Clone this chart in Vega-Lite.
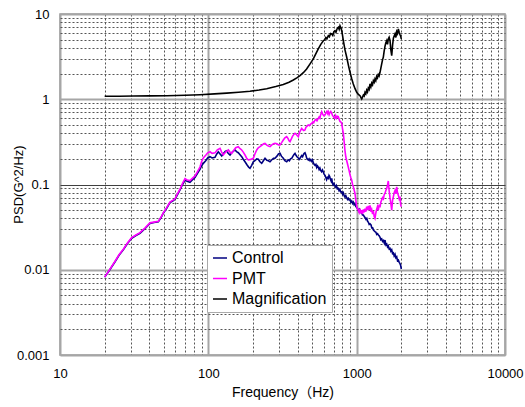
{
 "$schema": "https://vega.github.io/schema/vega-lite/v6.json",
 "width": 445, "height": 341,
 "autosize": "none",
 "padding": {"left": 60, "top": 14, "right": 20, "bottom": 52},
 "background": "white",
 "config": {"view": {"stroke": "#999999", "strokeWidth": 1.5}, "font": "Liberation Sans"},
 "data": {"values": [
{"s":"Control","f":20,"v":0.0082},{"s":"Control","f":21.5,"v":0.0098},{"s":"Control","f":23.5,"v":0.0124},{"s":"Control","f":25,"v":0.0148},{"s":"Control","f":26.7,"v":0.0171},{"s":"Control","f":28.5,"v":0.0203},{"s":"Control","f":30.4,"v":0.0234},{"s":"Control","f":32.5,"v":0.0252},{"s":"Control","f":34.6,"v":0.0268},{"s":"Control","f":37.5,"v":0.0305},{"s":"Control","f":40.4,"v":0.035},{"s":"Control","f":43,"v":0.0358},{"s":"Control","f":46,"v":0.0366},{"s":"Control","f":48,"v":0.041},{"s":"Control","f":49.7,"v":0.046},{"s":"Control","f":52.5,"v":0.053},{"s":"Control","f":55.1,"v":0.0612},{"s":"Control","f":57.5,"v":0.064},{"s":"Control","f":59.6,"v":0.0671},{"s":"Control","f":62,"v":0.076},{"s":"Control","f":64.4,"v":0.0862},{"s":"Control","f":67,"v":0.1},{"s":"Control","f":69.6,"v":0.112},{"s":"Control","f":72,"v":0.109},{"s":"Control","f":75.2,"v":0.106},{"s":"Control","f":78,"v":0.113},{"s":"Control","f":81.3,"v":0.121},{"s":"Control","f":84.5,"v":0.135},{"s":"Control","f":87.8,"v":0.15},{"s":"Control","f":90,"v":0.165},{"s":"Control","f":92.5,"v":0.177},{"s":"Control","f":96,"v":0.19},{"s":"Control","f":99,"v":0.205},{"s":"Control","f":102.6,"v":0.212},{"s":"Control","f":106,"v":0.205},{"s":"Control","f":110.9,"v":0.208},{"s":"Control","f":114,"v":0.228},{"s":"Control","f":116.8,"v":0.242},{"s":"Control","f":120,"v":0.228},{"s":"Control","f":123.1,"v":0.216},{"s":"Control","f":127,"v":0.232},{"s":"Control","f":130,"v":0.245},{"s":"Control","f":133,"v":0.249},{"s":"Control","f":136,"v":0.232},{"s":"Control","f":140,"v":0.222},{"s":"Control","f":145,"v":0.24},{"s":"Control","f":151.3,"v":0.254},{"s":"Control","f":155,"v":0.243},{"s":"Control","f":159.2,"v":0.236},{"s":"Control","f":163,"v":0.225},{"s":"Control","f":167.9,"v":0.212},{"s":"Control","f":172,"v":0.198},{"s":"Control","f":176.7,"v":0.185},{"s":"Control","f":183,"v":0.168},{"s":"Control","f":187,"v":0.16},{"s":"Control","f":190.9,"v":0.155},{"s":"Control","f":196,"v":0.168},{"s":"Control","f":201,"v":0.185},{"s":"Control","f":206,"v":0.19},{"s":"Control","f":212,"v":0.2},{"s":"Control","f":217.3,"v":0.198},{"s":"Control","f":223,"v":0.185},{"s":"Control","f":229,"v":0.177},{"s":"Control","f":235,"v":0.19},{"s":"Control","f":241.1,"v":0.203},{"s":"Control","f":248,"v":0.192},{"s":"Control","f":254,"v":0.19},{"s":"Control","f":260.5,"v":0.185},{"s":"Control","f":268,"v":0.195},{"s":"Control","f":275,"v":0.203},{"s":"Control","f":281.5,"v":0.203},{"s":"Control","f":290,"v":0.215},{"s":"Control","f":297,"v":0.228},{"s":"Control","f":304.2,"v":0.232},{"s":"Control","f":311,"v":0.215},{"s":"Control","f":320.2,"v":0.203},{"s":"Control","f":328,"v":0.19},{"s":"Control","f":337.6,"v":0.185},{"s":"Control","f":345,"v":0.195},{"s":"Control","f":352,"v":0.19},{"s":"Control","f":358,"v":0.2},{"s":"Control","f":364.8,"v":0.203},{"s":"Control","f":372,"v":0.215},{"s":"Control","f":378,"v":0.225},{"s":"Control","f":384,"v":0.232},{"s":"Control","f":390,"v":0.22},{"s":"Control","f":397,"v":0.21},{"s":"Control","f":404,"v":0.205},{"s":"Control","f":410,"v":0.197},{"s":"Control","f":415,"v":0.203},{"s":"Control","f":420,"v":0.21},{"s":"Control","f":426,"v":0.218},{"s":"Control","f":432,"v":0.212},{"s":"Control","f":438,"v":0.225},{"s":"Control","f":443,"v":0.232},{"s":"Control","f":448.5,"v":0.236},{"s":"Control","f":455,"v":0.22},{"s":"Control","f":460,"v":0.205},{"s":"Control","f":466,"v":0.198},{"s":"Control","f":472,"v":0.194},{"s":"Control","f":478,"v":0.2},{"s":"Control","f":485,"v":0.19},{"s":"Control","f":491,"v":0.196},{"s":"Control","f":498,"v":0.187},{"s":"Control","f":504,"v":0.194},{"s":"Control","f":510,"v":0.18},{"s":"Control","f":517,"v":0.172},{"s":"Control","f":524,"v":0.168},{"s":"Control","f":531,"v":0.172},{"s":"Control","f":538,"v":0.158},{"s":"Control","f":545,"v":0.165},{"s":"Control","f":551,"v":0.16},{"s":"Control","f":558,"v":0.15},{"s":"Control","f":565,"v":0.156},{"s":"Control","f":572,"v":0.146},{"s":"Control","f":580,"v":0.141},{"s":"Control","f":588,"v":0.148},{"s":"Control","f":596,"v":0.14},{"s":"Control","f":603,"v":0.132},{"s":"Control","f":612,"v":0.128},{"s":"Control","f":619,"v":0.122},{"s":"Control","f":627,"v":0.114},{"s":"Control","f":636,"v":0.121},{"s":"Control","f":644,"v":0.118},{"s":"Control","f":651,"v":0.128},{"s":"Control","f":658,"v":0.124},{"s":"Control","f":665,"v":0.115},{"s":"Control","f":672,"v":0.11},{"s":"Control","f":679,"v":0.118},{"s":"Control","f":686,"v":0.104},{"s":"Control","f":694,"v":0.099},{"s":"Control","f":703,"v":0.103},{"s":"Control","f":714,"v":0.096},{"s":"Control","f":722,"v":0.093},{"s":"Control","f":731,"v":0.097},{"s":"Control","f":741,"v":0.089},{"s":"Control","f":752,"v":0.09},{"s":"Control","f":760,"v":0.085},{"s":"Control","f":770,"v":0.088},{"s":"Control","f":780,"v":0.082},{"s":"Control","f":793,"v":0.082},{"s":"Control","f":803,"v":0.077},{"s":"Control","f":813,"v":0.08},{"s":"Control","f":823,"v":0.074},{"s":"Control","f":834,"v":0.071},{"s":"Control","f":845,"v":0.074},{"s":"Control","f":857,"v":0.07},{"s":"Control","f":867,"v":0.067},{"s":"Control","f":878,"v":0.069},{"s":"Control","f":889,"v":0.066},{"s":"Control","f":902,"v":0.0658},{"s":"Control","f":914,"v":0.062},{"s":"Control","f":926,"v":0.064},{"s":"Control","f":938,"v":0.06},{"s":"Control","f":949,"v":0.062},{"s":"Control","f":961,"v":0.058},{"s":"Control","f":974,"v":0.06},{"s":"Control","f":987,"v":0.055},{"s":"Control","f":1001,"v":0.054},{"s":"Control","f":1015,"v":0.052},{"s":"Control","f":1030,"v":0.049},{"s":"Control","f":1045,"v":0.051},{"s":"Control","f":1060,"v":0.047},{"s":"Control","f":1081,"v":0.047},{"s":"Control","f":1095,"v":0.044},{"s":"Control","f":1110,"v":0.0439},{"s":"Control","f":1125,"v":0.042},{"s":"Control","f":1138,"v":0.041},{"s":"Control","f":1155,"v":0.039},{"s":"Control","f":1170,"v":0.04},{"s":"Control","f":1185,"v":0.037},{"s":"Control","f":1200,"v":0.036},{"s":"Control","f":1215,"v":0.034},{"s":"Control","f":1230,"v":0.0345},{"s":"Control","f":1250,"v":0.0335},{"s":"Control","f":1265,"v":0.031},{"s":"Control","f":1282,"v":0.031},{"s":"Control","f":1300,"v":0.029},{"s":"Control","f":1315,"v":0.0285},{"s":"Control","f":1329,"v":0.028},{"s":"Control","f":1348,"v":0.0275},{"s":"Control","f":1365,"v":0.026},{"s":"Control","f":1383,"v":0.0265},{"s":"Control","f":1400,"v":0.0256},{"s":"Control","f":1418,"v":0.025},{"s":"Control","f":1437,"v":0.024},{"s":"Control","f":1455,"v":0.0225},{"s":"Control","f":1475,"v":0.023},{"s":"Control","f":1495,"v":0.0215},{"s":"Control","f":1515,"v":0.022},{"s":"Control","f":1535,"v":0.0205},{"s":"Control","f":1553,"v":0.0223},{"s":"Control","f":1575,"v":0.0195},{"s":"Control","f":1595,"v":0.02},{"s":"Control","f":1615,"v":0.0185},{"s":"Control","f":1635,"v":0.019},{"s":"Control","f":1656,"v":0.0175},{"s":"Control","f":1678,"v":0.0178},{"s":"Control","f":1700,"v":0.0165},{"s":"Control","f":1723,"v":0.0171},{"s":"Control","f":1745,"v":0.0155},{"s":"Control","f":1768,"v":0.0158},{"s":"Control","f":1790,"v":0.0145},{"s":"Control","f":1814,"v":0.0152},{"s":"Control","f":1838,"v":0.0138},{"s":"Control","f":1862,"v":0.0142},{"s":"Control","f":1885,"v":0.0128},{"s":"Control","f":1909,"v":0.013},{"s":"Control","f":1935,"v":0.0122},{"s":"Control","f":1960,"v":0.0118},{"s":"Control","f":1980,"v":0.0112},{"s":"Control","f":2000,"v":0.0102},
{"s":"PMT","f":20,"v":0.0082},{"s":"PMT","f":21.5,"v":0.0099},{"s":"PMT","f":23.5,"v":0.0126},{"s":"PMT","f":25,"v":0.015},{"s":"PMT","f":26.7,"v":0.0174},{"s":"PMT","f":28.5,"v":0.0206},{"s":"PMT","f":30.4,"v":0.0238},{"s":"PMT","f":32.5,"v":0.0256},{"s":"PMT","f":34.6,"v":0.0272},{"s":"PMT","f":37.5,"v":0.031},{"s":"PMT","f":40.4,"v":0.0355},{"s":"PMT","f":43,"v":0.0362},{"s":"PMT","f":46,"v":0.037},{"s":"PMT","f":48,"v":0.0415},{"s":"PMT","f":49.7,"v":0.0465},{"s":"PMT","f":52.5,"v":0.054},{"s":"PMT","f":55.1,"v":0.0622},{"s":"PMT","f":57.5,"v":0.065},{"s":"PMT","f":59.6,"v":0.068},{"s":"PMT","f":62,"v":0.078},{"s":"PMT","f":64.4,"v":0.088},{"s":"PMT","f":67,"v":0.103},{"s":"PMT","f":69.6,"v":0.117},{"s":"PMT","f":72,"v":0.113},{"s":"PMT","f":75.2,"v":0.111},{"s":"PMT","f":78,"v":0.118},{"s":"PMT","f":81.3,"v":0.126},{"s":"PMT","f":84.5,"v":0.142},{"s":"PMT","f":87.8,"v":0.16},{"s":"PMT","f":90,"v":0.185},{"s":"PMT","f":92.5,"v":0.205},{"s":"PMT","f":96,"v":0.22},{"s":"PMT","f":99,"v":0.235},{"s":"PMT","f":102.6,"v":0.242},{"s":"PMT","f":106,"v":0.232},{"s":"PMT","f":110.9,"v":0.235},{"s":"PMT","f":115,"v":0.255},{"s":"PMT","f":119.9,"v":0.266},{"s":"PMT","f":123,"v":0.24},{"s":"PMT","f":126.2,"v":0.222},{"s":"PMT","f":131,"v":0.24},{"s":"PMT","f":136.4,"v":0.254},{"s":"PMT","f":140,"v":0.24},{"s":"PMT","f":143.7,"v":0.232},{"s":"PMT","f":148,"v":0.25},{"s":"PMT","f":153,"v":0.27},{"s":"PMT","f":159.2,"v":0.278},{"s":"PMT","f":163,"v":0.265},{"s":"PMT","f":167.9,"v":0.254},{"s":"PMT","f":172,"v":0.24},{"s":"PMT","f":176.7,"v":0.222},{"s":"PMT","f":181,"v":0.205},{"s":"PMT","f":186,"v":0.194},{"s":"PMT","f":193,"v":0.197},{"s":"PMT","f":201,"v":0.203},{"s":"PMT","f":206,"v":0.228},{"s":"PMT","f":212,"v":0.254},{"s":"PMT","f":217,"v":0.27},{"s":"PMT","f":223,"v":0.278},{"s":"PMT","f":230,"v":0.29},{"s":"PMT","f":236,"v":0.3},{"s":"PMT","f":241.1,"v":0.304},{"s":"PMT","f":248,"v":0.29},{"s":"PMT","f":254,"v":0.282},{"s":"PMT","f":260.5,"v":0.278},{"s":"PMT","f":268,"v":0.292},{"s":"PMT","f":275,"v":0.3},{"s":"PMT","f":281.5,"v":0.304},{"s":"PMT","f":290,"v":0.3},{"s":"PMT","f":297,"v":0.291},{"s":"PMT","f":304.2,"v":0.291},{"s":"PMT","f":312,"v":0.31},{"s":"PMT","f":320.2,"v":0.333},{"s":"PMT","f":328,"v":0.352},{"s":"PMT","f":337.6,"v":0.364},{"s":"PMT","f":345,"v":0.345},{"s":"PMT","f":350,"v":0.325},{"s":"PMT","f":355.3,"v":0.318},{"s":"PMT","f":362,"v":0.34},{"s":"PMT","f":370,"v":0.37},{"s":"PMT","f":377,"v":0.385},{"s":"PMT","f":384,"v":0.399},{"s":"PMT","f":390,"v":0.39},{"s":"PMT","f":397,"v":0.375},{"s":"PMT","f":404.2,"v":0.364},{"s":"PMT","f":410,"v":0.4},{"s":"PMT","f":418,"v":0.43},{"s":"PMT","f":426,"v":0.456},{"s":"PMT","f":433,"v":0.44},{"s":"PMT","f":440,"v":0.43},{"s":"PMT","f":448.5,"v":0.436},{"s":"PMT","f":455,"v":0.47},{"s":"PMT","f":460,"v":0.477},{"s":"PMT","f":466,"v":0.49},{"s":"PMT","f":472,"v":0.5},{"s":"PMT","f":480,"v":0.49},{"s":"PMT","f":489,"v":0.51},{"s":"PMT","f":498,"v":0.522},{"s":"PMT","f":505,"v":0.54},{"s":"PMT","f":513,"v":0.53},{"s":"PMT","f":524,"v":0.571},{"s":"PMT","f":531,"v":0.58},{"s":"PMT","f":540,"v":0.56},{"s":"PMT","f":551,"v":0.598},{"s":"PMT","f":558,"v":0.62},{"s":"PMT","f":565,"v":0.6},{"s":"PMT","f":572,"v":0.66},{"s":"PMT","f":581,"v":0.714},{"s":"PMT","f":590,"v":0.67},{"s":"PMT","f":600,"v":0.64},{"s":"PMT","f":612,"v":0.654},{"s":"PMT","f":620,"v":0.69},{"s":"PMT","f":630,"v":0.72},{"s":"PMT","f":637,"v":0.68},{"s":"PMT","f":644,"v":0.714},{"s":"PMT","f":652,"v":0.66},{"s":"PMT","f":660,"v":0.7},{"s":"PMT","f":669,"v":0.72},{"s":"PMT","f":679,"v":0.684},{"s":"PMT","f":686,"v":0.65},{"s":"PMT","f":695,"v":0.63},{"s":"PMT","f":703,"v":0.61},{"s":"PMT","f":714,"v":0.598},{"s":"PMT","f":722,"v":0.64},{"s":"PMT","f":731,"v":0.6},{"s":"PMT","f":741,"v":0.63},{"s":"PMT","f":752,"v":0.624},{"s":"PMT","f":762,"v":0.58},{"s":"PMT","f":772,"v":0.55},{"s":"PMT","f":783,"v":0.54},{"s":"PMT","f":793,"v":0.522},{"s":"PMT","f":803,"v":0.45},{"s":"PMT","f":813,"v":0.399},{"s":"PMT","f":823,"v":0.32},{"s":"PMT","f":834,"v":0.25},{"s":"PMT","f":845,"v":0.21},{"s":"PMT","f":857,"v":0.19},{"s":"PMT","f":867,"v":0.175},{"s":"PMT","f":878,"v":0.16},{"s":"PMT","f":890,"v":0.145},{"s":"PMT","f":902,"v":0.13},{"s":"PMT","f":914,"v":0.12},{"s":"PMT","f":926,"v":0.112},{"s":"PMT","f":938,"v":0.1},{"s":"PMT","f":949,"v":0.095},{"s":"PMT","f":961,"v":0.086},{"s":"PMT","f":974,"v":0.079},{"s":"PMT","f":987,"v":0.065},{"s":"PMT","f":1001,"v":0.055},{"s":"PMT","f":1013,"v":0.052},{"s":"PMT","f":1026,"v":0.05},{"s":"PMT","f":1040,"v":0.047},{"s":"PMT","f":1053,"v":0.052},{"s":"PMT","f":1067,"v":0.046},{"s":"PMT","f":1081,"v":0.05},{"s":"PMT","f":1095,"v":0.045},{"s":"PMT","f":1110,"v":0.051},{"s":"PMT","f":1124,"v":0.047},{"s":"PMT","f":1138,"v":0.052},{"s":"PMT","f":1153,"v":0.048},{"s":"PMT","f":1168,"v":0.055},{"s":"PMT","f":1183,"v":0.05},{"s":"PMT","f":1198,"v":0.056},{"s":"PMT","f":1214,"v":0.05},{"s":"PMT","f":1230,"v":0.057},{"s":"PMT","f":1247,"v":0.048},{"s":"PMT","f":1263,"v":0.051},{"s":"PMT","f":1280,"v":0.045},{"s":"PMT","f":1296,"v":0.049},{"s":"PMT","f":1313,"v":0.042},{"s":"PMT","f":1329,"v":0.04},{"s":"PMT","f":1346,"v":0.046},{"s":"PMT","f":1363,"v":0.051},{"s":"PMT","f":1381,"v":0.055},{"s":"PMT","f":1399,"v":0.05},{"s":"PMT","f":1417,"v":0.058},{"s":"PMT","f":1436,"v":0.054},{"s":"PMT","f":1455,"v":0.062},{"s":"PMT","f":1475,"v":0.066},{"s":"PMT","f":1494,"v":0.07},{"s":"PMT","f":1514,"v":0.068},{"s":"PMT","f":1533,"v":0.076},{"s":"PMT","f":1553,"v":0.079},{"s":"PMT","f":1573,"v":0.085},{"s":"PMT","f":1594,"v":0.09},{"s":"PMT","f":1614,"v":0.098},{"s":"PMT","f":1634,"v":0.11},{"s":"PMT","f":1655,"v":0.085},{"s":"PMT","f":1678,"v":0.07},{"s":"PMT","f":1700,"v":0.06},{"s":"PMT","f":1723,"v":0.05},{"s":"PMT","f":1746,"v":0.065},{"s":"PMT","f":1768,"v":0.072},{"s":"PMT","f":1790,"v":0.08},{"s":"PMT","f":1814,"v":0.085},{"s":"PMT","f":1838,"v":0.078},{"s":"PMT","f":1862,"v":0.094},{"s":"PMT","f":1885,"v":0.08},{"s":"PMT","f":1909,"v":0.075},{"s":"PMT","f":1935,"v":0.068},{"s":"PMT","f":1960,"v":0.072},{"s":"PMT","f":1980,"v":0.058},{"s":"PMT","f":2000,"v":0.055},
{"s":"Magnification","f":20,"v":1.083},{"s":"Magnification","f":25,"v":1.085},{"s":"Magnification","f":31.2,"v":1.09},{"s":"Magnification","f":40,"v":1.095},{"s":"Magnification","f":52.4,"v":1.1},{"s":"Magnification","f":70,"v":1.115},{"s":"Magnification","f":87.8,"v":1.13},{"s":"Magnification","f":110,"v":1.155},{"s":"Magnification","f":133,"v":1.18},{"s":"Magnification","f":160,"v":1.21},{"s":"Magnification","f":190.9,"v":1.24},{"s":"Magnification","f":220,"v":1.285},{"s":"Magnification","f":247.5,"v":1.33},{"s":"Magnification","f":285,"v":1.41},{"s":"Magnification","f":320,"v":1.49},{"s":"Magnification","f":350,"v":1.58},{"s":"Magnification","f":374,"v":1.68},{"s":"Magnification","f":395,"v":1.78},{"s":"Magnification","f":415,"v":1.89},{"s":"Magnification","f":437,"v":2.05},{"s":"Magnification","f":460,"v":2.26},{"s":"Magnification","f":485,"v":2.6},{"s":"Magnification","f":510,"v":2.97},{"s":"Magnification","f":530,"v":3.4},{"s":"Magnification","f":551,"v":3.89},{"s":"Magnification","f":573,"v":4.4},{"s":"Magnification","f":596,"v":4.86},{"s":"Magnification","f":610,"v":5.0},{"s":"Magnification","f":620,"v":5.3},{"s":"Magnification","f":630,"v":5.1},{"s":"Magnification","f":644,"v":5.57},{"s":"Magnification","f":655,"v":5.4},{"s":"Magnification","f":667,"v":5.9},{"s":"Magnification","f":679,"v":5.83},{"s":"Magnification","f":690,"v":5.6},{"s":"Magnification","f":702,"v":6.2},{"s":"Magnification","f":714,"v":6.37},{"s":"Magnification","f":725,"v":6.1},{"s":"Magnification","f":738,"v":6.7},{"s":"Magnification","f":752,"v":6.98},{"s":"Magnification","f":762,"v":6.6},{"s":"Magnification","f":772,"v":7.29},{"s":"Magnification","f":783,"v":6.9},{"s":"Magnification","f":793,"v":6.37},{"s":"Magnification","f":803,"v":5.6},{"s":"Magnification","f":813,"v":4.86},{"s":"Magnification","f":834,"v":3.8},{"s":"Magnification","f":857,"v":3.11},{"s":"Magnification","f":880,"v":2.5},{"s":"Magnification","f":902,"v":2.07},{"s":"Magnification","f":925,"v":1.75},{"s":"Magnification","f":949,"v":1.51},{"s":"Magnification","f":975,"v":1.33},{"s":"Magnification","f":1001,"v":1.206},{"s":"Magnification","f":1027,"v":1.14},{"s":"Magnification","f":1053,"v":1.1},{"s":"Magnification","f":1067,"v":1.05},{"s":"Magnification","f":1081,"v":1.007},{"s":"Magnification","f":1095,"v":1.06},{"s":"Magnification","f":1110,"v":1.12},{"s":"Magnification","f":1124,"v":1.09},{"s":"Magnification","f":1138,"v":1.206},{"s":"Magnification","f":1153,"v":1.16},{"s":"Magnification","f":1168,"v":1.28},{"s":"Magnification","f":1183,"v":1.22},{"s":"Magnification","f":1198,"v":1.35},{"s":"Magnification","f":1214,"v":1.3},{"s":"Magnification","f":1230,"v":1.51},{"s":"Magnification","f":1247,"v":1.4},{"s":"Magnification","f":1263,"v":1.55},{"s":"Magnification","f":1280,"v":1.48},{"s":"Magnification","f":1296,"v":1.65},{"s":"Magnification","f":1313,"v":1.58},{"s":"Magnification","f":1329,"v":1.73},{"s":"Magnification","f":1346,"v":1.65},{"s":"Magnification","f":1363,"v":1.85},{"s":"Magnification","f":1381,"v":1.78},{"s":"Magnification","f":1399,"v":1.95},{"s":"Magnification","f":1417,"v":1.88},{"s":"Magnification","f":1437,"v":2.07},{"s":"Magnification","f":1455,"v":2.3},{"s":"Magnification","f":1475,"v":2.6},{"s":"Magnification","f":1494,"v":2.9},{"s":"Magnification","f":1512,"v":3.11},{"s":"Magnification","f":1533,"v":3.7},{"s":"Magnification","f":1553,"v":4.2},{"s":"Magnification","f":1573,"v":4.6},{"s":"Magnification","f":1594,"v":4.86},{"s":"Magnification","f":1614,"v":4.4},{"s":"Magnification","f":1634,"v":5.1},{"s":"Magnification","f":1655,"v":5.33},{"s":"Magnification","f":1678,"v":4.9},{"s":"Magnification","f":1700,"v":3.8},{"s":"Magnification","f":1723,"v":3.24},{"s":"Magnification","f":1746,"v":4.3},{"s":"Magnification","f":1768,"v":5.2},{"s":"Magnification","f":1790,"v":5.5},{"s":"Magnification","f":1814,"v":5.83},{"s":"Magnification","f":1838,"v":5.3},{"s":"Magnification","f":1862,"v":6.2},{"s":"Magnification","f":1885,"v":5.9},{"s":"Magnification","f":1909,"v":6.67},{"s":"Magnification","f":1935,"v":6.1},{"s":"Magnification","f":1960,"v":5.7},{"s":"Magnification","f":1980,"v":5.5},{"s":"Magnification","f":2000,"v":5.09}
 ]},
 "mark": {"type": "line", "strokeWidth": 1.6, "clip": true},
 "encoding": {
  "x": {"field": "f", "type": "quantitative",
   "scale": {"type": "log", "domain": [10, 10000], "nice": false},
   "axis": {"title": "Frequency（Hz)",
    "values": [10,20,30,40,50,60,70,80,90,100,200,300,400,500,600,700,800,900,1000,2000,3000,4000,5000,6000,7000,8000,9000,10000],
    "format": "d",
    "labelExpr": "indexof([10,100,1000,10000], datum.value) >= 0 ? datum.label : ''",
    "labelOverlap": false, "labelFlush": false,
    "ticks": false, "domain": false, "labelPadding": 12,
    "labelFontSize": 13, "labelColor": "#000000", "labelFont": "Liberation Sans",
    "titleFontSize": 14, "titleFontWeight": "normal", "titleColor": "#000000", "titleFont": "Liberation Sans, Noto Sans CJK JP", "titlePadding": 5,
    "grid": true,
    "gridColor": {"condition": {"test": "indexof([10,100,1000,10000], datum.value) >= 0", "value": "#a6a6a6"}, "value": "#555555"},
    "gridDash": {"condition": {"test": "indexof([10,100,1000,10000], datum.value) >= 0", "value": []}, "value": [2,2]},
    "gridWidth": {"condition": {"test": "indexof([10,100,1000,10000], datum.value) >= 0", "value": 2}, "value": 1}
   }
  },
  "y": {"field": "v", "type": "quantitative",
   "scale": {"type": "log", "domain": [0.001, 10], "nice": false},
   "axis": {"title": "PSD(G^2/Hz)",
    "values": [0.001,0.002,0.003,0.004,0.005,0.006,0.007,0.008,0.009,0.01,0.02,0.03,0.04,0.05,0.06,0.07,0.08,0.09,0.1,0.2,0.3,0.4,0.5,0.6,0.7,0.8,0.9,1,2,3,4,5,6,7,8,9,10],
    "format": "~g",
    "labelExpr": "indexof([0.001,0.01,0.1,1,10], datum.value) >= 0 ? datum.label : ''",
    "labelOverlap": false, "labelFlush": false,
    "ticks": false, "domain": false, "labelPadding": 11,
    "labelFontSize": 13, "labelColor": "#000000", "labelFont": "Liberation Sans",
    "titleFontSize": 13, "titleFontWeight": "normal", "titleColor": "#000000", "titleFont": "Liberation Sans",
    "titleX": -42, "titleY": 170, "titleAlign": "center", "titleBaseline": "middle", "titleAngle": -90,
    "grid": true,
    "gridColor": {"condition": [{"test": "datum.value == 0.1", "value": "#404040"}, {"test": "indexof([0.001,0.01,1,10], datum.value) >= 0", "value": "#a6a6a6"}], "value": "#555555"},
    "gridDash": {"condition": {"test": "indexof([0.001,0.01,0.1,1,10], datum.value) >= 0", "value": []}, "value": [2,2]},
    "gridWidth": {"condition": {"test": "indexof([0.001,0.01,1,10], datum.value) >= 0", "value": 2}, "value": 1}
   }
  },
  "color": {"field": "s", "type": "nominal",
   "scale": {"domain": ["Control", "PMT", "Magnification"], "range": ["#000080", "#FF00FF", "#000000"]},
   "legend": {"title": null, "orient": "none", "legendX": 147, "legendY": 231,
    "symbolType": "stroke", "symbolSize": 196, "symbolStrokeWidth": 1.5,
    "labelFontSize": 16, "labelFont": "Liberation Sans", "labelColor": "#000000", "labelOffset": 4,
    "fillColor": "#ffffff", "strokeColor": "#aaaaaa", "padding": 5, "rowPadding": 4.5}
  }
 }
}
